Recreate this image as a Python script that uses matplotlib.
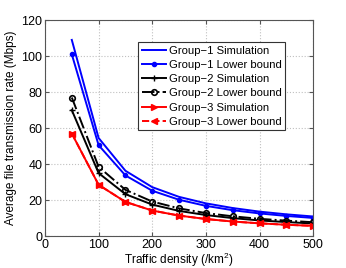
import numpy as np
import matplotlib
matplotlib.use("Agg")
import matplotlib.pyplot as plt

density = [50, 100, 150, 200, 250, 300, 350, 400, 450, 500]
g1_sim = [109, 54.5, 36.3, 27.2, 21.8, 18.2, 15.6, 13.6, 12.1, 10.9]
g1_lb = [101, 50.5, 33.7, 25.2, 20.2, 16.8, 14.4, 12.6, 11.2, 10.1]
g2_sim = [70, 35, 23.3, 17.5, 14.0, 11.7, 10.0, 8.7, 7.8, 7.0]
g2_lb = [77, 38.5, 25.7, 19.2, 15.4, 12.8, 11.0, 9.6, 8.6, 7.7]
g3_sim = [57, 28.5, 19.0, 14.2, 11.4, 9.5, 8.1, 7.1, 6.3, 5.7]
g3_lb = [57, 28.5, 19.0, 14.2, 11.4, 9.5, 8.1, 7.1, 6.3, 5.7]

plt.rcParams["font.family"] = ["Liberation Sans", "DejaVu Sans"]
plt.rcParams["mathtext.fontset"] = "custom"
plt.rcParams["mathtext.rm"] = "Liberation Sans"
fig = plt.figure(figsize=(3.46, 2.68), dpi=100)
ax = fig.add_axes([0.130, 0.119, 0.775, 0.806])

lw = 1.4
ax.plot(density, g1_sim, color="blue", lw=lw, label="Group\u22121 Simulation")
ax.plot(density, g1_lb, color="blue", lw=lw, marker=".", ms=6,
        label="Group\u22121 Lower bound")
ax.plot(density, g2_sim, color="black", lw=lw, marker="+", ms=4,
        label="Group\u22122 Simulation")
ax.plot(density, g2_lb, color="black", lw=lw, ls="-.", marker="o", ms=4,
        mfc="none", mew=1.2, label="Group\u22122 Lower bound")
ax.plot(density, g3_sim, color="red", lw=lw, marker=">", ms=5,
        label="Group\u22123 Simulation")
ax.plot(density, g3_lb, color="red", lw=lw, ls="--", marker="<", ms=5,
        label="Group\u22123 Lower bound")

ax.set_xlim(0, 500)
ax.set_ylim(0, 120)
ax.set_xticks(np.arange(0, 501, 100))
ax.set_yticks(np.arange(0, 121, 20))
ax.grid(True, ls=":", color="#c0c0c0", lw=0.8)
ax.tick_params(direction="in", labelsize=9, length=3, color="#555555",
               top=True, right=True, pad=2)
for s in ax.spines.values():
    s.set_color("#555555")
    s.set_linewidth(0.8)

ax.set_xlabel("Traffic density (/km$\\mathrm{^2}$)", fontsize=8.5, labelpad=0)
ax.set_ylabel("Average file transmission rate (Mbps)", fontsize=8.5, labelpad=3)

leg = ax.legend(loc="upper left", bbox_to_anchor=(0.348, 0.898), fontsize=8.1,
                handlelength=2.2, handletextpad=0.2, labelspacing=0.38,
                borderpad=0.3, borderaxespad=0, fancybox=False, framealpha=1,
                edgecolor="#333333")
leg.get_frame().set_linewidth(0.8)

fig.savefig("out.png", dpi=100)
